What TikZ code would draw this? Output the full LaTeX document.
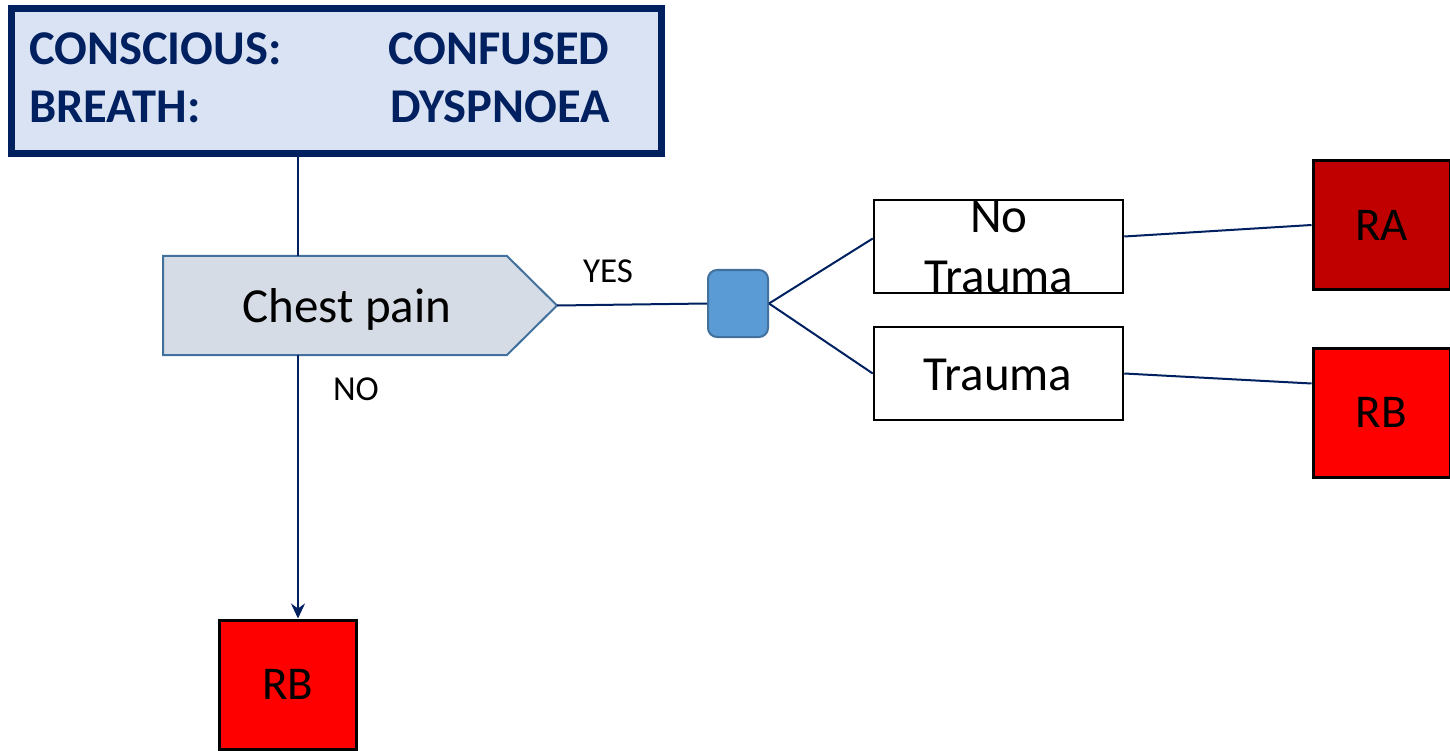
\documentclass[tikz,border=0pt]{standalone}
\usepackage{fontspec}
\setmainfont{Carlito}
\usetikzlibrary{arrows.meta}
\definecolor{navy}{HTML}{002060}
\definecolor{hdrfill}{HTML}{DAE3F3}
\definecolor{cpfill}{HTML}{D6DCE5}
\definecolor{steel}{HTML}{41719C}
\definecolor{knotblue}{HTML}{5B9BD5}
\definecolor{darkred}{HTML}{C00000}
\definecolor{brightred}{HTML}{FF0000}
\tikzset{
  hdrtext/.style={font=\bfseries\fontsize{48.5}{58}\selectfont, text=navy, inner sep=0pt},
  bigtext/.style={font=\fontsize{49}{58}\selectfont, inner sep=0pt},
  smalltext/.style={font=\fontsize{35}{42}\selectfont, inner sep=0pt},
  conn/.style={draw=navy, line width=2pt},
  choice/.style={draw=black, line width=2.5pt, fill=white, minimum width=249pt, minimum height=93pt, inner sep=0pt},
  code/.style={draw=black, line width=3pt, minimum width=137pt, minimum height=129pt, inner sep=0pt, font=\fontsize{47}{56}\selectfont},
  knot/.style={draw=steel, line width=2pt, fill=knotblue, rounded corners=9pt, minimum width=60pt, minimum height=67pt, inner sep=0pt}
}
\begin{document}
\begin{tikzpicture}[x=1pt,y=-1pt]
\useasboundingbox (0,0) rectangle (1450,751);

% header panel
\node[draw=navy, line width=7pt, fill=hdrfill, minimum width=650pt, minimum height=145pt, inner sep=0pt, anchor=north west] (hdr) at (7.5,5) {};
\node[hdrtext, anchor=base west] (k1) at (29,65) {CONSCIOUS:};
\node[hdrtext, anchor=base west] (v1) at (388,65) {CONFUSED};
\node[hdrtext, anchor=base west] (k2) at (29,123) {BREATH:};
\node[hdrtext, anchor=base west] (v2) at (390,123) {DYSPNOEA};

% decision shape
\draw[draw=steel, line width=2pt, fill=cpfill] (163,256) -- (507,256) -- (557,305.5) -- (507,355) -- (163,355) -- cycle;
\coordinate (cptop) at (298,256);
\coordinate (cpbot) at (298,355);
\coordinate (cptip) at (557,305.5);
\node[bigtext] (cptext) at (347,309) {Chest pain};

% branch point
\node[knot] (kn) at (738,303.5) {};

% options
\node[choice] (nt) at (998.5,246.5) {};
\node[bigtext, anchor=base] (ntno) at (999,233) {No};
\node[bigtext, anchor=base] (nttr) at (999,292) {Trauma};
\node[choice] (tr) at (998.5,373.5) {};
\node[bigtext, anchor=base] (trlbl) at (998,390) {Trauma};

% outcome codes
\node[code, fill=darkred] (ra) at (1381.5,225) {RA};
\node[code, fill=brightred] (rbr) at (1381.5,412.5) {RB};
\node[code, fill=brightred] (rbl) at (288,684.5) {RB};

% labels
\node[smalltext] (yes) at (608,271) {YES};
\node[smalltext] (no) at (356,389) {NO};

% connectors
\draw[conn] (cptop |- hdr.south) -- (cptop);
\draw[conn, -{Stealth[length=15pt, width=14pt, inset=5pt]}] (cpbot) -- (cpbot |- rbl.north);
\draw[conn] (cptip) -- (kn.west);
\draw[conn] (kn.east) -- ([yshift=8pt]nt.west);
\draw[conn] (kn.east) -- (tr.west);
\draw[conn] ([yshift=10pt]nt.east) -- (ra.west);
\draw[conn] (tr.east) -- ([yshift=29pt]rbr.west);
\end{tikzpicture}
\end{document}
